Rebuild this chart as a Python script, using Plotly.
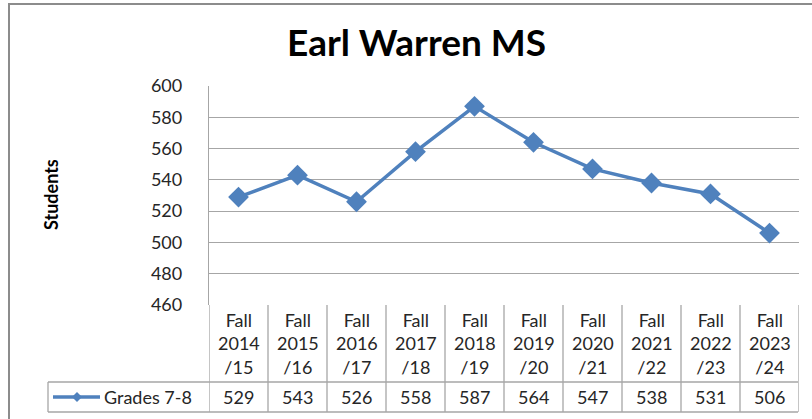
import plotly.graph_objects as go

categories = ["Fall<br>2014<br>/15", "Fall<br>2015<br>/16", "Fall<br>2016<br>/17", "Fall<br>2017<br>/18",
              "Fall<br>2018<br>/19", "Fall<br>2019<br>/20", "Fall<br>2020<br>/21", "Fall<br>2021<br>/22",
              "Fall<br>2022<br>/23", "Fall<br>2023<br>/24"]
series_name = "Grades 7-8"
values = [529, 543, 526, 558, 587, 564, 547, 538, 531, 506]
y_ticks = [460, 480, 500, 520, 540, 560, 580, 600]

W, H = 812, 419
def px(x): return x / W
def py(y): return (H - y) / H

BLUE = "#4F81BD"
GRID = "#A6A6A6"
TXT = "#262626"
FONT = "Lato"

idx = list(range(len(categories)))

fig = go.Figure()
fig.add_trace(go.Scatter(
    x=idx, y=values, mode="lines+markers", name=series_name,
    line=dict(color=BLUE, width=3.5),
    marker=dict(symbol="diamond", size=16, color=BLUE),
    showlegend=False,
))

annotations = []
for i, c in enumerate(categories):
    annotations.append(dict(x=i, y=py(343), xref="x", yref="paper", text=c, showarrow=False,
                            font=dict(family=FONT, size=18, color=TXT), align="center",
                            xanchor="center", yanchor="middle"))
for i, v in enumerate(values):
    annotations.append(dict(x=i, y=py(397), xref="x", yref="paper", text=str(v), showarrow=False,
                            font=dict(family=FONT, size=18, color=TXT),
                            xanchor="center", yanchor="middle"))
# legend text
annotations.append(dict(x=px(102), y=py(397), xref="paper", yref="paper", text=series_name,
                        showarrow=False, font=dict(family=FONT, size=18, color=TXT),
                        xanchor="left", yanchor="middle"))
annotations.append(dict(x=px(416), y=py(41), xref="paper", yref="paper", text="<b>Earl Warren MS</b>",
                        showarrow=False, font=dict(family=FONT, size=37, color="#000000"),
                        xanchor="center", yanchor="middle"))
annotations.append(dict(x=px(51), y=py(195), xref="paper", yref="paper", text="<b>Students</b>",
                        showarrow=False, textangle=-90, font=dict(family=FONT, size=18, color="#000000"),
                        xanchor="center", yanchor="middle"))

shapes = []
LINE = dict(color=GRID, width=1.3)
for k in range(len(categories) + 1):
    shapes.append(dict(type="line", xref="x", yref="paper", x0=k - 0.5, x1=k - 0.5,
                       y0=py(412), y1=py(305), line=LINE))
for yy in (382, 412):
    shapes.append(dict(type="line", xref="paper", yref="paper", x0=px(48), x1=px(798),
                       y0=py(yy), y1=py(yy), line=LINE))
shapes.append(dict(type="line", xref="paper", yref="paper", x0=px(48), x1=px(48),
                   y0=py(412), y1=py(382), line=LINE))
shapes.append(dict(type="rect", xref="paper", yref="paper", x0=px(9), x1=1.05,
                   y0=-0.05, y1=py(4), line=dict(color="#8C8C8C", width=2)))
# legend key: line + small diamond
shapes.append(dict(type="line", xref="paper", yref="paper", x0=px(53), x1=px(100),
                   y0=py(397), y1=py(397), line=dict(color=BLUE, width=3.5)))
cx, cy, r = 77, 397, 5
shapes.append(dict(type="path", xref="paper", yref="paper",
                   path=f"M {px(cx-r)} {py(cy)} L {px(cx)} {py(cy-r)} L {px(cx+r)} {py(cy)} L {px(cx)} {py(cy+r)} Z",
                   fillcolor=BLUE, line=dict(color=BLUE, width=0)))

fig.update_layout(
    width=W, height=H,
    margin=dict(l=0, r=0, t=0, b=0, autoexpand=False),
    paper_bgcolor="white", plot_bgcolor="white",
    font=dict(family=FONT, color=TXT),
    showlegend=False,
    xaxis=dict(domain=[px(209), px(799)], range=[-0.5, len(categories) - 0.5], automargin=False,
               showticklabels=False, showgrid=False, zeroline=False, showline=False, ticks=""),
    yaxis=dict(domain=[py(305), py(86)], range=[460, 600], tickvals=y_ticks, automargin=False,
               showgrid=True, gridcolor=GRID, gridwidth=1.3, zeroline=False,
               showline=True, linecolor=GRID, linewidth=1.3,
               ticks="", ticklabelstandoff=22,
               tickfont=dict(family=FONT, size=18, color=TXT)),
    annotations=annotations,
    shapes=shapes,
)

fig.write_html("out.html", config={"displayModeBar": False},
               post_script="document.body.style.margin='0';document.body.style.padding='0';")
